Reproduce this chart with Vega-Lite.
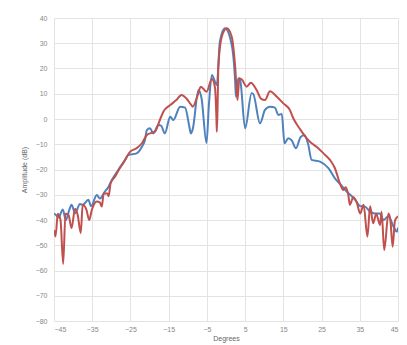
{
  "$schema": "https://vega.github.io/schema/vega-lite/v6.json",
  "width": 344,
  "height": 303,
  "autosize": {"type": "none"},
  "padding": {"left": 54, "top": 18, "right": 9, "bottom": 24},
  "background": "white",
  "config": {
    "view": {"stroke": null},
    "font": "Liberation Sans",
    "axis": {
      "labelFont": "Liberation Sans",
      "titleFont": "Liberation Sans",
      "labelFontSize": 7,
      "titleFontSize": 7,
      "titleFontWeight": "normal",
      "labelColor": "#888888",
      "titleColor": "#666666",
      "gridColor": "#e3e3e3",
      "gridWidth": 1,
      "domain": false,
      "ticks": false
    }
  },
  "data": {
    "values": [
      {"series": "s1", "deg": -45, "db": -37.5},
      {"series": "s1", "deg": -44.5, "db": -38},
      {"series": "s1", "deg": -43.8, "db": -39},
      {"series": "s1", "deg": -42.7, "db": -35.8},
      {"series": "s1", "deg": -41.9, "db": -40},
      {"series": "s1", "deg": -41, "db": -36},
      {"series": "s1", "deg": -40.4, "db": -34},
      {"series": "s1", "deg": -39.5, "db": -37.3},
      {"series": "s1", "deg": -38.2, "db": -33.7},
      {"series": "s1", "deg": -37.5, "db": -34},
      {"series": "s1", "deg": -36, "db": -32},
      {"series": "s1", "deg": -35.3, "db": -34.5},
      {"series": "s1", "deg": -33.8, "db": -30.1},
      {"series": "s1", "deg": -33, "db": -31.5},
      {"series": "s1", "deg": -31.7, "db": -28.8},
      {"series": "s1", "deg": -30.8, "db": -27},
      {"series": "s1", "deg": -30, "db": -24.5},
      {"series": "s1", "deg": -28.2, "db": -20.2},
      {"series": "s1", "deg": -26.4, "db": -16.2},
      {"series": "s1", "deg": -25.6, "db": -14.3},
      {"series": "s1", "deg": -23.4, "db": -13.6},
      {"series": "s1", "deg": -22, "db": -11},
      {"series": "s1", "deg": -21.2, "db": -8.3},
      {"series": "s1", "deg": -20.7, "db": -4.4},
      {"series": "s1", "deg": -19.9, "db": -3.7},
      {"series": "s1", "deg": -19, "db": -5.7},
      {"series": "s1", "deg": -17.7, "db": -2.4},
      {"series": "s1", "deg": -17, "db": -2.6},
      {"series": "s1", "deg": -16, "db": -5.7},
      {"series": "s1", "deg": -14.6, "db": 0.9},
      {"series": "s1", "deg": -13.8, "db": -0.4},
      {"series": "s1", "deg": -12, "db": 4.9},
      {"series": "s1", "deg": -10.7, "db": 4.5},
      {"series": "s1", "deg": -9.6, "db": -3},
      {"series": "s1", "deg": -9.2, "db": -5.7},
      {"series": "s1", "deg": -8.7, "db": -4},
      {"series": "s1", "deg": -7.2, "db": 11.5},
      {"series": "s1", "deg": -6.4, "db": 8.2},
      {"series": "s1", "deg": -5.1, "db": -9.5},
      {"series": "s1", "deg": -4.5, "db": 5},
      {"series": "s1", "deg": -3.7, "db": 17.4},
      {"series": "s1", "deg": -2.4, "db": 13.5},
      {"series": "s1", "deg": -1.6, "db": 30.6},
      {"series": "s1", "deg": -0.3, "db": 35.9},
      {"series": "s1", "deg": 1.5, "db": 29.3},
      {"series": "s1", "deg": 2.4, "db": 14.8},
      {"series": "s1", "deg": 2.6, "db": 8.8},
      {"series": "s1", "deg": 3.2, "db": 16.1},
      {"series": "s1", "deg": 3.7, "db": 15.4},
      {"series": "s1", "deg": 5, "db": -3.7},
      {"series": "s1", "deg": 6.7, "db": 10.2},
      {"series": "s1", "deg": 7.1, "db": 10},
      {"series": "s1", "deg": 8.9, "db": -1.7},
      {"series": "s1", "deg": 10.2, "db": 3.6},
      {"series": "s1", "deg": 11.5, "db": 4.9},
      {"series": "s1", "deg": 12.8, "db": 4.5},
      {"series": "s1", "deg": 13.7, "db": 1.6},
      {"series": "s1", "deg": 14.6, "db": 2},
      {"series": "s1", "deg": 15.3, "db": -9.6},
      {"series": "s1", "deg": 16.3, "db": -7.6},
      {"series": "s1", "deg": 17.2, "db": -8.5},
      {"series": "s1", "deg": 18.3, "db": -11.6},
      {"series": "s1", "deg": 19.5, "db": -7.2},
      {"series": "s1", "deg": 20.5, "db": -6.3},
      {"series": "s1", "deg": 21.5, "db": -10},
      {"series": "s1", "deg": 22.4, "db": -16.2},
      {"series": "s1", "deg": 24.6, "db": -16.9},
      {"series": "s1", "deg": 26.8, "db": -19.5},
      {"series": "s1", "deg": 28.5, "db": -23.5},
      {"series": "s1", "deg": 30.3, "db": -26.5},
      {"series": "s1", "deg": 31.6, "db": -28.8},
      {"series": "s1", "deg": 32.5, "db": -30},
      {"series": "s1", "deg": 33.8, "db": -32},
      {"series": "s1", "deg": 35.1, "db": -34.5},
      {"series": "s1", "deg": 36.4, "db": -34.7},
      {"series": "s1", "deg": 37.7, "db": -36.7},
      {"series": "s1", "deg": 39, "db": -37.4},
      {"series": "s1", "deg": 40.2, "db": -37.4},
      {"series": "s1", "deg": 41.2, "db": -40},
      {"series": "s1", "deg": 42.5, "db": -38.5},
      {"series": "s1", "deg": 43.8, "db": -42.6},
      {"series": "s1", "deg": 44.7, "db": -44.6},
      {"series": "s1", "deg": 45, "db": -43},
      {"series": "s2", "deg": -45, "db": -44},
      {"series": "s2", "deg": -44.6, "db": -46.5},
      {"series": "s2", "deg": -44, "db": -37.5},
      {"series": "s2", "deg": -43.3, "db": -40},
      {"series": "s2", "deg": -42.6, "db": -57.4},
      {"series": "s2", "deg": -42, "db": -37.5},
      {"series": "s2", "deg": -41.2, "db": -38},
      {"series": "s2", "deg": -40.4, "db": -43.2},
      {"series": "s2", "deg": -39.5, "db": -35.5},
      {"series": "s2", "deg": -38.8, "db": -38},
      {"series": "s2", "deg": -38, "db": -45.2},
      {"series": "s2", "deg": -37.5, "db": -34},
      {"series": "s2", "deg": -36.5, "db": -36},
      {"series": "s2", "deg": -35.8, "db": -40},
      {"series": "s2", "deg": -35.1, "db": -36},
      {"series": "s2", "deg": -33.8, "db": -32.7},
      {"series": "s2", "deg": -33, "db": -33},
      {"series": "s2", "deg": -32.5, "db": -34.7},
      {"series": "s2", "deg": -32, "db": -29.5},
      {"series": "s2", "deg": -31, "db": -29.5},
      {"series": "s2", "deg": -30.7, "db": -30.6},
      {"series": "s2", "deg": -30.2, "db": -25.5},
      {"series": "s2", "deg": -29, "db": -22.8},
      {"series": "s2", "deg": -28, "db": -20},
      {"series": "s2", "deg": -26.9, "db": -17.5},
      {"series": "s2", "deg": -25.1, "db": -13},
      {"series": "s2", "deg": -23.4, "db": -11.6},
      {"series": "s2", "deg": -22, "db": -9.6},
      {"series": "s2", "deg": -20.7, "db": -6.3},
      {"series": "s2", "deg": -19.5, "db": -5.5},
      {"series": "s2", "deg": -18.6, "db": -5},
      {"series": "s2", "deg": -17.3, "db": -0.4},
      {"series": "s2", "deg": -16.4, "db": 2.9},
      {"series": "s2", "deg": -14.6, "db": 5.5},
      {"series": "s2", "deg": -13, "db": 7.5},
      {"series": "s2", "deg": -11.6, "db": 9.5},
      {"series": "s2", "deg": -10.3, "db": 8},
      {"series": "s2", "deg": -9.2, "db": 5.8},
      {"series": "s2", "deg": -8.7, "db": 4.9},
      {"series": "s2", "deg": -7.5, "db": 9},
      {"series": "s2", "deg": -6.6, "db": 12.8},
      {"series": "s2", "deg": -5.1, "db": 10.8},
      {"series": "s2", "deg": -3.7, "db": 15.8},
      {"series": "s2", "deg": -2.9, "db": 12.6},
      {"series": "s2", "deg": -2.5, "db": 0},
      {"series": "s2", "deg": -2.4, "db": -5},
      {"series": "s2", "deg": -2.2, "db": 5},
      {"series": "s2", "deg": -2, "db": 20.7},
      {"series": "s2", "deg": -1.1, "db": 32.6},
      {"series": "s2", "deg": 0.2, "db": 35.9},
      {"series": "s2", "deg": 1.5, "db": 32.6},
      {"series": "s2", "deg": 2.4, "db": 20.7},
      {"series": "s2", "deg": 3, "db": 7.5},
      {"series": "s2", "deg": 3.5, "db": 16.1},
      {"series": "s2", "deg": 4.2, "db": 15.5},
      {"series": "s2", "deg": 5.4, "db": 12.8},
      {"series": "s2", "deg": 6.5, "db": 14.4},
      {"series": "s2", "deg": 8, "db": 11.5},
      {"series": "s2", "deg": 9.2, "db": 8},
      {"series": "s2", "deg": 10.2, "db": 7.5},
      {"series": "s2", "deg": 11.5, "db": 11},
      {"series": "s2", "deg": 13.3, "db": 8.8},
      {"series": "s2", "deg": 15, "db": 6.2},
      {"series": "s2", "deg": 16.7, "db": 3.6},
      {"series": "s2", "deg": 17.6, "db": 0.3},
      {"series": "s2", "deg": 18.9, "db": -3},
      {"series": "s2", "deg": 19.8, "db": -5},
      {"series": "s2", "deg": 21, "db": -7.5},
      {"series": "s2", "deg": 22.4, "db": -9.6},
      {"series": "s2", "deg": 23.7, "db": -11},
      {"series": "s2", "deg": 25.5, "db": -13.6},
      {"series": "s2", "deg": 27.2, "db": -16.2},
      {"series": "s2", "deg": 28.5, "db": -19.5},
      {"series": "s2", "deg": 29.8, "db": -25.5},
      {"series": "s2", "deg": 30.7, "db": -28.1},
      {"series": "s2", "deg": 31.3, "db": -27},
      {"series": "s2", "deg": 32, "db": -30.1},
      {"series": "s2", "deg": 32.4, "db": -34},
      {"series": "s2", "deg": 33.3, "db": -31},
      {"series": "s2", "deg": 34.2, "db": -33},
      {"series": "s2", "deg": 35.1, "db": -37.4},
      {"series": "s2", "deg": 36, "db": -34},
      {"series": "s2", "deg": 37, "db": -46.6},
      {"series": "s2", "deg": 37.7, "db": -34.6},
      {"series": "s2", "deg": 38.5, "db": -41.3},
      {"series": "s2", "deg": 39.3, "db": -37.5},
      {"series": "s2", "deg": 40.3, "db": -42},
      {"series": "s2", "deg": 40.7, "db": -36.7},
      {"series": "s2", "deg": 41.4, "db": -51.9},
      {"series": "s2", "deg": 42.5, "db": -37.4},
      {"series": "s2", "deg": 43, "db": -40},
      {"series": "s2", "deg": 43.6, "db": -50.6},
      {"series": "s2", "deg": 44.2, "db": -40.3},
      {"series": "s2", "deg": 45, "db": -38.5}
    ]
  },
  "mark": {"type": "line", "strokeWidth": 2, "interpolate": "monotone", "clip": true},
  "encoding": {
    "x": {
      "field": "deg",
      "type": "quantitative",
      "scale": {"domain": [-45, 45], "nice": false, "zero": false},
      "axis": {"values": [-45, -35, -25, -15, -5, 5, 15, 25, 35, 45], "title": "Degrees", "labelPadding": 4, "titlePadding": 2}
    },
    "y": {
      "field": "db",
      "type": "quantitative",
      "scale": {"domain": [-80, 40], "nice": false, "zero": false},
      "axis": {"values": [-80, -70, -60, -50, -40, -30, -20, -10, 0, 10, 20, 30, 40], "title": "Amplitude (dB)", "labelPadding": 7, "titlePadding": 8}
    },
    "color": {
      "field": "series",
      "type": "nominal",
      "scale": {"domain": ["s1", "s2"], "range": ["#4f81bd", "#c0504d"]},
      "legend": null
    },
    "order": {"field": "deg", "type": "quantitative"}
  }
}
